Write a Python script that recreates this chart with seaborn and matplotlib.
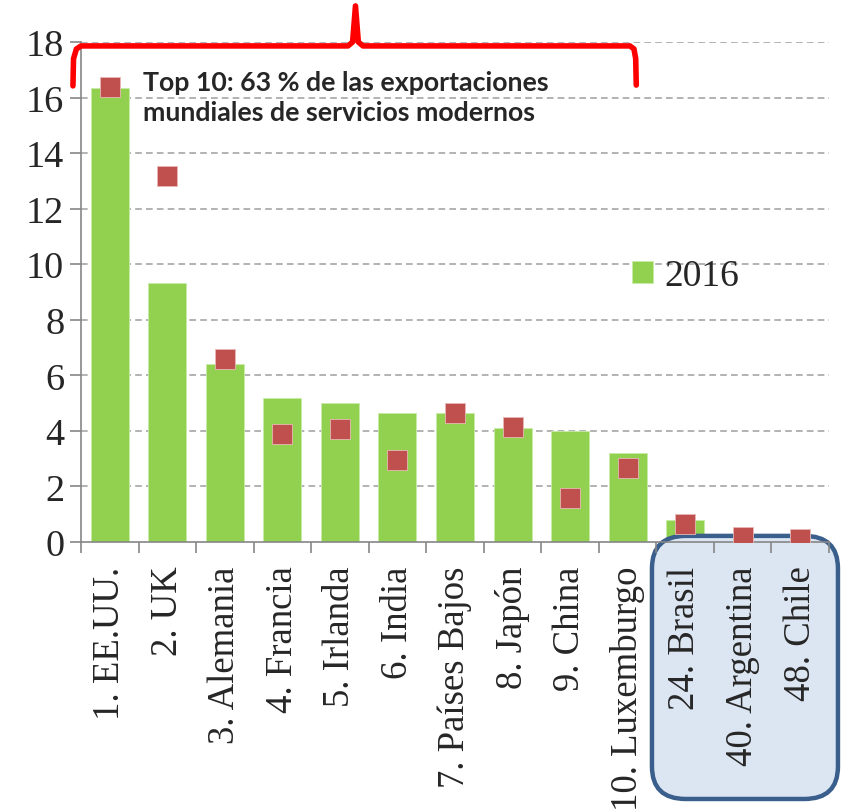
import numpy as np
import pandas as pd
import matplotlib.pyplot as plt
from matplotlib.patches import FancyBboxPatch
from matplotlib.ticker import FixedLocator
import seaborn as sns

# datos
paises = ['1. EE.UU.', '2. UK', '3. Alemania', '4. Francia', '5. Irlanda', '6. India',
          '7. Países Bajos', '8. Japón', '9. China', '10. Luxemburgo',
          '24. Brasil', '40. Argentina', '48. Chile']
valores_2016 = [16.35, 9.32, 6.41, 5.2, 4.99, 4.64, 4.64, 4.12, 3.98, 3.2, 0.8, 0.16, 0.15]
valores_2005 = [16.37, 13.19, 6.58, 3.88, 4.06, 2.94, 4.64, 4.14, 1.57, 2.65, 0.64, 0.18, 0.12]
y_ticks = [0, 2, 4, 6, 8, 10, 12, 14, 16, 18]

df = pd.DataFrame({'pais': paises, 'v2016': valores_2016, 'v2005': valores_2005})

sns.set_style('white')
plt.rcParams['font.family'] = ['Liberation Serif', 'DejaVu Serif']

fig = plt.figure(figsize=(8.42, 8.12), dpi=100)
ax = fig.add_axes([0.0962, 0.3313, 0.8884, 0.6157])

# líneas de cuadrícula a mano, detrás de las barras
ax.hlines(y_ticks[1:], -0.5, len(paises) - 0.5, color='#A6A6A6',
          linestyle=(0, (4, 2.5)), linewidth=1.2, zorder=0.5)

sns.barplot(data=df, x='pais', y='v2016', color='#92D050', width=0.66, saturation=1,
            edgecolor='#C9EBA8', linewidth=0.6, label='2016', ax=ax, zorder=1)
sns.scatterplot(data=df, x='pais', y='v2005', marker='s', s=210, color='#C0504D',
                edgecolor='#E8B8B6', linewidth=0.6, ax=ax, zorder=4, legend=False)

ax.set_ylim(0, 18)
ax.set_xlim(-0.5, len(paises) - 0.5)
ax.set_yticks(y_ticks)
ax.set_xlabel('')
ax.set_ylabel('')
ax.grid(False)
ax.set_axisbelow(False)

ax.tick_params(axis='y', labelsize=27.5, length=8, width=1.2, color='#868686', pad=4, left=True)
ax.tick_params(axis='x', which='major', labelsize=26.5, length=0, pad=17, rotation=90)
ax.xaxis.set_minor_locator(FixedLocator(np.arange(-0.5, len(paises), 1)))
ax.tick_params(axis='x', which='minor', length=8, width=1.2, color='#868686', bottom=True)
for lab in ax.get_xticklabels():
    lab.set_va('top')

sns.despine(ax=ax, top=True, right=True)
for s in ['left', 'bottom']:
    ax.spines[s].set_color('#868686')
    ax.spines[s].set_linewidth(1.2)

# leyenda
ax.legend(loc='center left', bbox_to_anchor=(0.733, 0.659), bbox_transform=fig.transFigure,
          frameon=False, fontsize=27, handlelength=0.55, handleheight=0.55,
          handletextpad=0.3, borderaxespad=0)

# llave roja superior
bx = [-0.64, -0.63, -0.58, -0.5, 4.14, 4.22, 4.27, 4.32, 4.40, 9.04, 9.11, 9.14, 9.15]
by = [16.42, 17.4, 17.75, 17.86, 17.86, 18.0, 19.3, 18.0, 17.86, 17.86, 17.75, 17.4, 16.45]
ax.plot(bx, by, color='#FF0000', linewidth=4, solid_capstyle='round',
        solid_joinstyle='round', clip_on=False, zorder=5)

ax.text(0.58, 17.0, 'Top 10: 63 % de las exportaciones\nmundiales de servicios modernos',
        family=['Lato', 'DejaVu Sans'], fontweight='bold', fontsize=19.3,
        va='top', ha='left', linespacing=1.3, zorder=6)

# recuadro de América Latina
caja = FancyBboxPatch((0.7743, 0.0148), 0.2209, 0.324,
                      boxstyle='round,pad=0,rounding_size=0.04',
                      transform=fig.transFigure, facecolor='#DCE6F2', edgecolor='#3A5F8C',
                      linewidth=3.2, clip_on=False, zorder=1.2)
ax.add_patch(caja)

fig.savefig('out.png', dpi=100)
